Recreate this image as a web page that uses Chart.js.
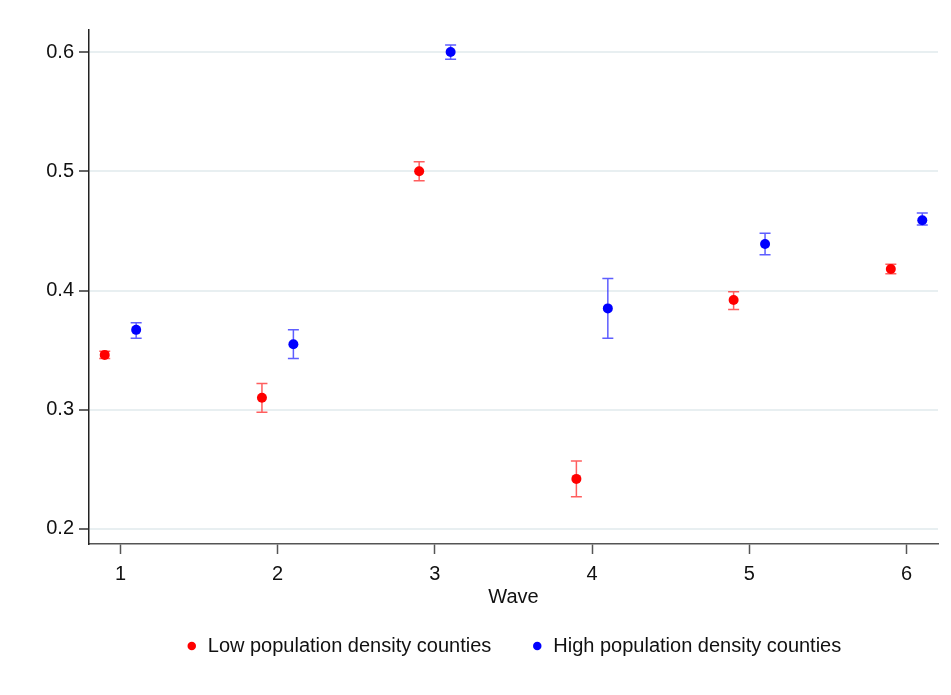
<!DOCTYPE html>
<html>
<head>
<meta charset="utf-8">
<style>
  html, body { margin: 0; padding: 0; background: #fff; }
  #wrap { width: 951px; height: 695px; }
</style>
<script src="https://cdn.jsdelivr.net/npm/chart.js@4/dist/chart.umd.min.js"></script>
</head>
<body>
<div id="wrap"><canvas id="waveChart" width="951" height="695"></canvas></div>
<script>
// values
const waves = [1, 2, 3, 4, 5, 6];
const xTicks = [1, 2, 3, 4, 5, 6];
const yTicks = [0.2, 0.3, 0.4, 0.5, 0.6];

const lowMean  = [0.346, 0.310, 0.500, 0.242, 0.392, 0.418];
const lowLower = [0.343, 0.298, 0.492, 0.227, 0.384, 0.414];
const lowUpper = [0.349, 0.322, 0.508, 0.257, 0.399, 0.422];

const highMean  = [0.367, 0.355, 0.600, 0.385, 0.439, 0.459];
const highLower = [0.360, 0.343, 0.594, 0.360, 0.430, 0.455];
const highUpper = [0.373, 0.367, 0.606, 0.410, 0.448, 0.465];

const FONT = '"Liberation Sans Narrow", "Arial Narrow", "Liberation Sans", Arial, sans-serif';

// points sit a little either side of each wave
function makePoints(mean, lower, upper, shift) {
    return waves.map((w, i) => ({ x: w + shift, y: mean[i], lo: lower[i], hi: upper[i] }));
}

// draws the confidence intervals with the chart's own scales
const errorBars = {
    id: 'errorBars',
    beforeDatasetsDraw(chart) {
        const ctx = chart.ctx;
        const xs = chart.scales.x, ys = chart.scales.y;
        chart.data.datasets.forEach(ds => {
            ctx.save();
            ctx.strokeStyle = ds.barColor;
            ctx.lineWidth = 1.5;
            ds.data.forEach(p => {
                const px = xs.getPixelForValue(p.x);
                const top = ys.getPixelForValue(p.hi);
                const bot = ys.getPixelForValue(p.lo);
                ctx.beginPath();
                ctx.moveTo(px, top); ctx.lineTo(px, bot);
                ctx.moveTo(px - 5.5, top); ctx.lineTo(px + 5.5, top);
                ctx.moveTo(px - 5.5, bot); ctx.lineTo(px + 5.5, bot);
                ctx.stroke();
            });
            ctx.restore();
        });
    }
};

// legend sits under the plot area, a bit closer to the axis title
const legendPlace = {
    id: 'legendPlace',
    afterLayout(chart) {
        const lg = chart.legend;
        const h = lg.bottom - lg.top;
        lg.top = 596;
        lg.bottom = lg.top + h;
        lg.left = chart.chartArea.left;
        lg.right = chart.chartArea.right;
    }
};

const ctx = document.getElementById('waveChart').getContext('2d');
new Chart(ctx, {
    type: 'scatter',
    data: {
        datasets: [{
            label: 'Low population density counties',
            data: makePoints(lowMean, lowLower, lowUpper, -0.1),
            backgroundColor: '#ff0000',
            borderColor: '#ff0000',
            barColor: 'rgba(255, 40, 40, 0.75)',
            pointRadius: 5,
            borderWidth: 0
        }, {
            label: 'High population density counties',
            data: makePoints(highMean, highLower, highUpper, 0.1),
            backgroundColor: '#0000ff',
            borderColor: '#0000ff',
            barColor: 'rgba(40, 40, 255, 0.75)',
            pointRadius: 5,
            borderWidth: 0
        }]
    },
    options: {
        responsive: false,
        animation: false,
        layout: { padding: { left: 0, right: 13, top: 30, bottom: 12 } },
        scales: {
            x: {
                type: 'linear',
                min: 0.8,
                max: 6.2,
                afterBuildTicks: axis => { axis.ticks = xTicks.map(v => ({ value: v })); },
                afterFit: axis => { axis.height = 69; },
                grid: { drawOnChartArea: false, tickLength: 10, tickColor: '#555', tickWidth: 1.5 },
                border: { color: '#555', width: 1.5 },
                ticks: { color: '#111', font: { family: FONT, size: 20 }, padding: 8 },
                title: { display: true, text: 'Wave', color: '#111', font: { family: FONT, size: 20 }, padding: { top: 0, bottom: 4 } }
            },
            y: {
                min: 0.1874,
                max: 0.6185,
                afterBuildTicks: axis => { axis.ticks = yTicks.map(v => ({ value: v })); },
                afterFit: axis => { axis.width = 89; },
                grid: { color: '#e8eff1', lineWidth: 2, tickLength: 10, tickColor: '#333', tickWidth: 1.5 },
                border: { color: '#222', width: 1.5 },
                ticks: { color: '#111', font: { family: FONT, size: 20 }, padding: 5,
                         callback: v => v.toFixed(1) }
            }
        },
        plugins: {
            legend: {
                position: 'bottom',
                labels: {
                    usePointStyle: true,
                    pointStyle: 'circle',
                    boxWidth: 12,
                    boxHeight: 6,
                    padding: 40,
                    color: '#111',
                    font: { family: FONT, size: 20 }
                }
            },
            tooltip: { enabled: false }
        }
    },
    plugins: [errorBars, legendPlace]
});
</script>
</body>
</html>
